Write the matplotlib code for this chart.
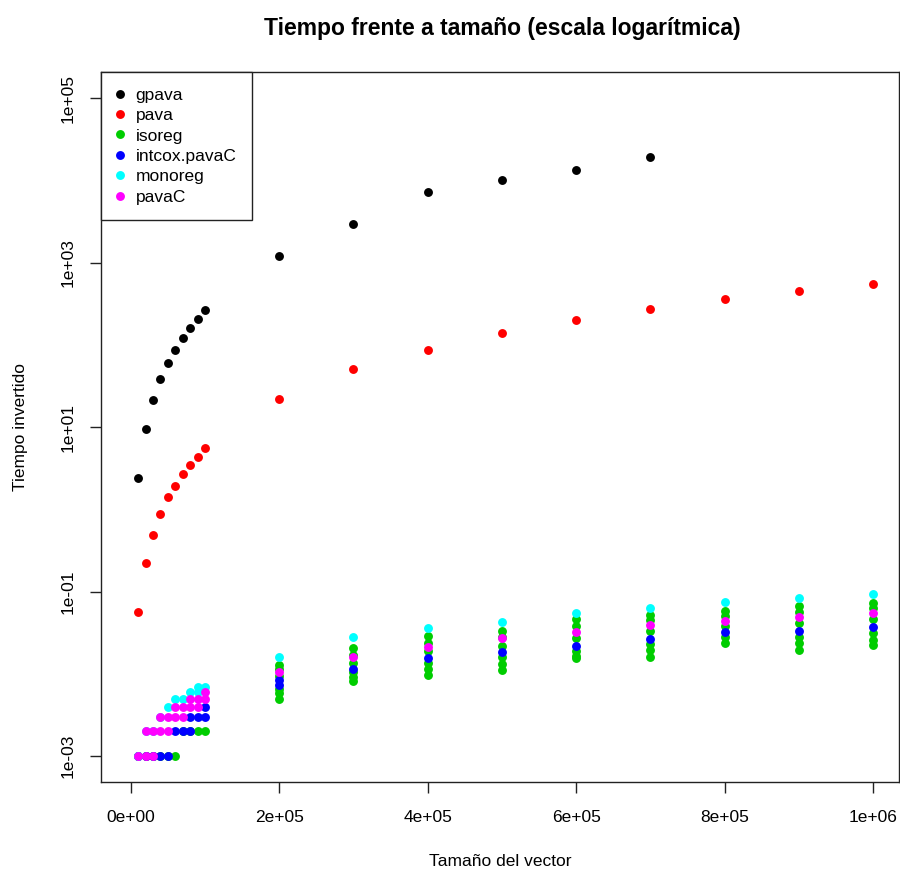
import matplotlib
matplotlib.use("Agg")
import matplotlib.pyplot as plt
from matplotlib.lines import Line2D

plt.rcParams['font.family'] = ['Liberation Sans', 'DejaVu Sans']

sizes_small = [1e4, 2e4, 3e4, 4e4, 5e4, 6e4, 7e4, 8e4, 9e4, 1e5]
sizes_large = [2e5, 3e5, 4e5, 5e5, 6e5, 7e5, 8e5, 9e5, 1e6]
sizes = sizes_small + sizes_large

gpava_sizes = sizes_small + [2e5, 3e5, 4e5, 5e5, 6e5, 7e5]
gpava = [2.43, 9.4, 21.7, 38, 59.6, 86, 120, 163, 204, 263,
         1197, 2937, 7200, 10090, 13340, 19200]

pava = [0.057, 0.22, 0.49, 0.87, 1.40, 1.94, 2.70, 3.50, 4.38, 5.60,
        22.3, 51.7, 88, 138, 199, 271, 358, 449, 546]

# several repetitions per size for the fast methods
isoreg = [[1e-3], [1e-3], [1e-3], [1e-3], [1e-3], [1e-3], [2e-3], [2e-3], [2e-3], [2e-3],
          [0.0128, 0.0115, 0.0095, 0.0065, 0.0058, 0.0049],
          [0.0205, 0.017, 0.0135, 0.0105, 0.0092, 0.0082],
          [0.029, 0.024, 0.019, 0.0135, 0.0115, 0.0098],
          [0.033, 0.028, 0.022, 0.016, 0.013, 0.011],
          [0.046, 0.038, 0.027, 0.019, 0.0165, 0.0155],
          [0.052, 0.045, 0.033, 0.023, 0.0195, 0.0162],
          [0.058, 0.05, 0.038, 0.028, 0.024],
          [0.066, 0.057, 0.042, 0.028, 0.0235, 0.0195],
          [0.072, 0.064, 0.047, 0.031, 0.026, 0.0225]]

intcox = [[1e-3], [1e-3], [1e-3], [1e-3], [1e-3], [2e-3], [2e-3], [2e-3, 3e-3], [3e-3], [3e-3, 4e-3],
          [0.0084, 0.0073], [0.0115], [0.0155], [0.0186], [0.022], [0.0264],
          [0.0318], [0.0333], [0.037]]

monoreg = [[1e-3], [2e-3], [2e-3], [3e-3], [4e-3], [5e-3], [5e-3], [6e-3], [6e-3, 7e-3], [7e-3],
           [0.0162], [0.0279], [0.036], [0.043], [0.055], [0.064], [0.0745], [0.0834], [0.0933]]

pavaC = [[1e-3], [1e-3, 2e-3], [1e-3, 2e-3], [2e-3, 3e-3], [2e-3, 3e-3], [3e-3, 4e-3], [3e-3, 4e-3],
         [4e-3, 5e-3], [4e-3, 5e-3], [5e-3, 6e-3],
         [0.0106], [0.0162], [0.0214], [0.0272], [0.0327], [0.0394], [0.0445], [0.0497], [0.0556]]

labels = ["gpava", "pava", "isoreg", "intcox.pavaC", "monoreg", "pavaC"]
colors = ["black", "red", "#00CD00", "blue", "cyan", "magenta"]

xticks = [0, 2e5, 4e5, 6e5, 8e5, 1e6]
xticklabels = ["0e+00", "2e+05", "4e+05", "6e+05", "8e+05", "1e+06"]
yticks = [1e-3, 1e-1, 1e1, 1e3, 1e5]
yticklabels = ["1e-03", "1e-01", "1e+01", "1e+03", "1e+05"]

W, H = 900, 873
fig = plt.figure(figsize=(W / 100, H / 100), dpi=100)
left, right, top, bottom = 101, 899, 72, 782
ax = fig.add_axes([left / W, 1 - bottom / H, (right - left) / W, (bottom - top) / H])

ms = 6.4
ax.plot(gpava_sizes, gpava, 'o', color=colors[0], ms=ms, mec='none')
ax.plot(sizes, pava, 'o', color=colors[1], ms=ms, mec='none')
for vals, col in zip([isoreg, intcox, monoreg, pavaC], colors[2:]):
    xs, ys = [], []
    for s, v in zip(sizes, vals):
        for y in v:
            xs.append(s)
            ys.append(y)
    ax.plot(xs, ys, 'o', color=col, ms=ms, mec='none')

ax.set_yscale('log')
ax.set_xlim(-40000, 1.035e6)
ax.set_ylim(10 ** -3.316, 10 ** 5.32)
ax.set_xticks(xticks)
ax.set_xticklabels(xticklabels)
ax.set_yticks(yticks)
ax.set_yticklabels(yticklabels, rotation=90, va='center')
ax.minorticks_off()
ax.tick_params(axis='both', direction='out', length=8, width=1, labelsize=12.5, color='#222222')
ax.tick_params(axis='x', pad=12)
ax.tick_params(axis='y', pad=10)
for sp in ax.spines.values():
    sp.set_linewidth(1)
    sp.set_color('#222222')

handles = [Line2D([], [], marker='o', ls='none', color=c, ms=ms, mec='none') for c in colors]
leg = ax.legend(handles, labels, loc='upper left', bbox_to_anchor=(0, 1), borderaxespad=0,
                fancybox=False, edgecolor='#222222', framealpha=1, fontsize=12.5,
                handletextpad=0.7, labelspacing=0.3, borderpad=0.9, handlelength=0.4)
leg.get_frame().set_linewidth(1)

fig.text(502 / W, 1 - 28 / H, "Tiempo frente a tamaño (escala logarítmica)",
         ha='center', va='center', fontsize=16.5, fontweight='bold')
fig.text(500 / W, 1 - 862 / H, "Tamaño del vector", ha='center', va='center', fontsize=12.5)
fig.text(21 / W, 1 - 427 / H, "Tiempo invertido", ha='center', va='center', rotation=90, fontsize=12.5)

fig.savefig("out.png", dpi=100)
